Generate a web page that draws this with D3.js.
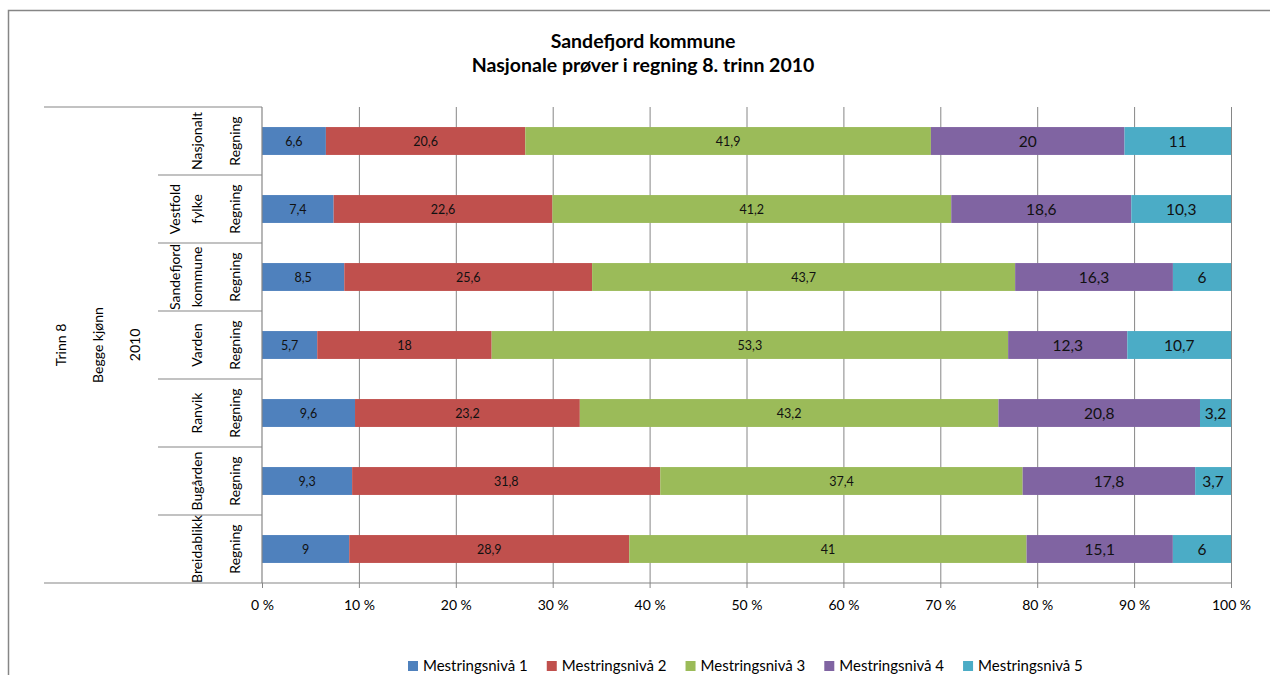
<!DOCTYPE html>
<html>
<head>
<meta charset="utf-8">
<script src="https://cdn.jsdelivr.net/npm/d3@7"></script>
<style>
  body { margin: 0; background: #fff; }
  svg { font-family: Lato, 'Liberation Sans', sans-serif; }
</style>
</head>
<body>
<svg id="chart" width="1270" height="675"></svg>
<script>
// data
const places = ['Nasjonalt', 'Vestfold fylke', 'Sandefjord kommune', 'Varden', 'Ranvik', 'Bugården', 'Breidablikk']
const placeLines = [['Nasjonalt'], ['Vestfold', 'fylke'], ['Sandefjord', 'kommune'], ['Varden'], ['Ranvik'], ['Bugården'], ['Breidablikk']]
const subject = 'Regning'
const outerLabels = ['Trinn 8', 'Begge kjønn', '2010']
const levels = ['Mestringsnivå 1', 'Mestringsnivå 2', 'Mestringsnivå 3', 'Mestringsnivå 4', 'Mestringsnivå 5']
const niva1 = [6.6, 7.4, 8.5, 5.7, 9.6, 9.3, 9]
const niva2 = [20.6, 22.6, 25.6, 18, 23.2, 31.8, 28.9]
const niva3 = [41.9, 41.2, 43.7, 53.3, 43.2, 37.4, 41]
const niva4 = [20, 18.6, 16.3, 12.3, 20.8, 17.8, 15.1]
const niva5 = [11, 10.3, 6, 10.7, 3.2, 3.7, 6]
const ticks = [0, 0.1, 0.2, 0.3, 0.4, 0.5, 0.6, 0.7, 0.8, 0.9, 1]
const cols = ['#4F81BD', '#C0504D', '#9BBB59', '#8064A2', '#4BACC6']

const series = [niva1, niva2, niva3, niva4, niva5]
const rows = places.map((p, i) => {
	let r = { place: p }
	levels.forEach((l, j) => { r[l] = series[j][i] })
	return r
})

const svg = d3.select('#chart')
const grey = '#868686'

// outer frame (runs off the picture on the right and bottom)
svg.append('rect')
	.attr('x', 8.5).attr('y', 10.5)
	.attr('width', 1300).attr('height', 700)
	.attr('fill', 'none').attr('stroke', grey).attr('stroke-width', 1.5)

const x = d3.scaleLinear().domain([0, 1]).range([262, 1231])
const y = d3.scaleBand().domain(places).range([107, 583]).paddingInner(0.59).paddingOuter(0.295)
const slot = d3.scaleBand().domain(places).range([107, 583])
const color = d3.scaleOrdinal().domain(levels).range(cols)

// title
const title = svg.append('text')
	.attr('text-anchor', 'middle')
	.attr('font-weight', 'bold')
	.attr('font-size', 19.5)
	.attr('fill', '#000')
title.append('tspan').attr('x', 643).attr('y', 48).text('Sandefjord kommune')
title.append('tspan').attr('x', 643).attr('y', 72).text('Nasjonale prøver i regning 8. trinn 2010')

// vertical gridlines
svg.append('g')
	.attr('transform', 'translate(0,583)')
	.call(d3.axisBottom(x).tickValues(ticks.slice(1)).tickSize(-476).tickFormat(''))
	.call(g => g.select('.domain').remove())
	.call(g => g.selectAll('line').attr('stroke', grey))

// bars
const stacked = d3.stack().keys(levels).offset(d3.stackOffsetExpand)(rows)

const layer = svg.append('g')
	.selectAll('g')
	.data(stacked)
	.join('g')
	.attr('fill', d => color(d.key))

layer.selectAll('rect')
	.data(d => d)
	.join('rect')
	.attr('x', d => x(d[0]))
	.attr('y', d => y(d.data.place))
	.attr('width', d => x(d[1]) - x(d[0]))
	.attr('height', y.bandwidth())

// value labels: first three levels small, last two larger
layer.each(function (s, si) {
	d3.select(this).selectAll('text')
		.data(s)
		.join('text')
		.attr('x', d => (x(d[0]) + x(d[1])) / 2)
		.attr('y', d => y(d.data.place) + y.bandwidth() / 2)
		.attr('dy', '0.36em')
		.attr('text-anchor', 'middle')
		.attr('fill', '#111')
		.attr('font-size', si < 3 ? 12.5 : 15.5)
		.text(d => String(d.data[s.key]).replace('.', ','))
})

// x axis
svg.append('g')
	.attr('transform', 'translate(0,583)')
	.call(d3.axisBottom(x).tickValues(ticks).tickSize(5).tickPadding(12).tickFormat(d => Math.round(d * 100) + ' %'))
	.call(g => g.select('.domain').remove())
	.call(g => g.selectAll('line').attr('stroke', grey))
	.call(g => g.selectAll('text').attr('font-size', 14).attr('fill', '#000').attr('font-family', 'Lato, sans-serif'))

// axis lines
const axes = svg.append('g').attr('stroke', grey).attr('stroke-width', 1.2)
axes.append('line').attr('x1', 44).attr('x2', 1232).attr('y1', 583).attr('y2', 583)
axes.append('line').attr('x1', 44).attr('x2', 262).attr('y1', 107).attr('y2', 107)
axes.append('line').attr('x1', 262).attr('x2', 262).attr('y1', 107).attr('y2', 583)
axes.selectAll('.sep')
	.data(places.slice(1))
	.join('line')
	.classed('sep', true)
	.attr('x1', 158).attr('x2', 262)
	.attr('y1', d => slot(d)).attr('y2', d => slot(d))

// category labels (rotated)
const cat = svg.append('g').attr('font-size', 14).attr('fill', '#000').attr('text-anchor', 'middle')

places.forEach((p, i) => {
	const cy = slot(p) + slot.bandwidth() / 2
	cat.append('text')
		.attr('transform', `translate(240,${cy}) rotate(-90)`)
		.text(subject)
	const lines = placeLines[i]
	const lx = lines.length == 1 ? [202] : [180, 202]
	lines.forEach((t, k) => {
		cat.append('text')
			.attr('transform', `translate(${lx[k]},${cy}) rotate(-90)`)
			.text(t)
	})
})

const outerX = [66, 103, 140]
outerLabels.forEach((t, k) => {
	cat.append('text')
		.attr('transform', `translate(${outerX[k]},345) rotate(-90)`)
		.text(t)
})

// legend
const legend = svg.append('g').attr('transform', 'translate(408,666)')
let lx = 0
levels.forEach(l => {
	const item = legend.append('g').attr('transform', `translate(${lx},0)`)
	item.append('rect')
		.attr('x', 0).attr('y', -5)
		.attr('width', 10).attr('height', 10)
		.attr('fill', color(l))
	const t = item.append('text')
		.attr('x', 15).attr('dy', '0.36em')
		.attr('font-size', 15).attr('fill', '#000')
		.text(l)
	lx += 15 + t.node().getComputedTextLength() + 19
})
</script>
</body>
</html>
